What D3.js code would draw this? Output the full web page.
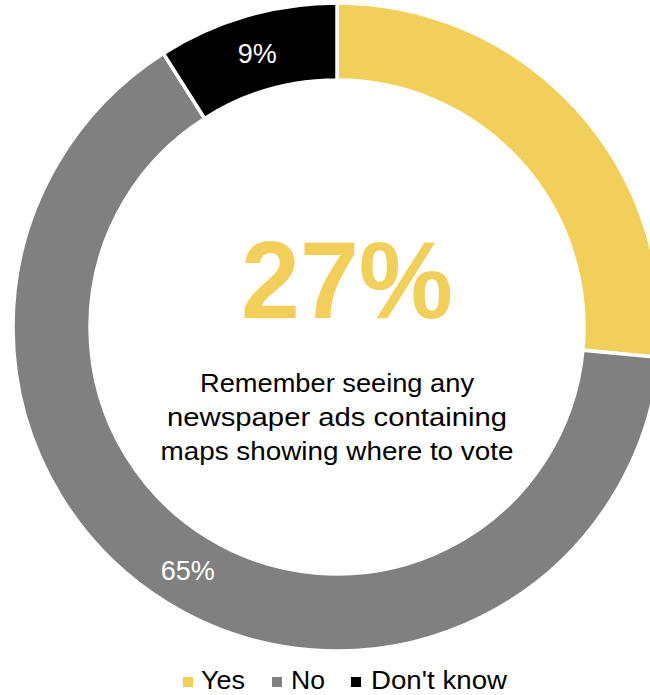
<!DOCTYPE html>
<html>
<head>
<meta charset="utf-8">
<script src="https://cdn.jsdelivr.net/npm/d3@7"></script>
<style>
  html, body { margin: 0; padding: 0; background: #fff; }
  svg { display: block; }
</style>
</head>
<body>
<svg id="chart" width="650" height="695"></svg>
<script>
const categories = ["Yes", "No", "Don't know"];
const values = [26.5, 64.5, 9];
const sliceLabels = ["27%", "65%", "9%"];
const colors = ["#F2CF5B", "#808080", "#000000"];
const centerValue = "27%";
const centerText = ["Remember seeing any", "newspaper ads containing", "maps showing where to vote"];

const svg = d3.select("#chart");
const cx = 337, cy = 327, outerR = 324, innerR = 247;
const FONT = "Liberation Sans, Arial, sans-serif";

const pie = d3.pie().sort(null).value(d => d.value);
const data = categories.map((c, i) => ({ name: c, value: values[i], label: sliceLabels[i], color: colors[i] }));
const arcs = pie(data);
const arc = d3.arc().innerRadius(innerR).outerRadius(outerR);
const labelArc = d3.arc().innerRadius((innerR + outerR) / 2).outerRadius((innerR + outerR) / 2);

const g = svg.append("g").attr("transform", `translate(${cx},${cy})`);
g.selectAll("path.slice")
  .data(arcs)
  .join("path")
  .attr("class", "slice")
  .attr("d", arc)
  .attr("fill", d => d.data.color)
  .attr("stroke", "#fff")
  .attr("stroke-width", 3.5)
  .attr("stroke-linejoin", "miter");

g.selectAll("text.slabel")
  .data(arcs.filter(d => d.data.name !== "Yes"))
  .join("text")
  .attr("class", "slabel")
  .attr("transform", d => `translate(${labelArc.centroid(d)})`)
  .attr("text-anchor", "middle")
  .attr("dy", "0.36em")
  .attr("fill", "#fff")
  .attr("font-family", FONT)
  .attr("font-size", 27)
  .text(d => d.data.label);

svg.append("text")
  .attr("x", cx + 10)
  .attr("y", 318)
  .attr("text-anchor", "middle")
  .attr("fill", "#F2CF5B")
  .attr("font-family", FONT)
  .attr("font-weight", "bold")
  .attr("font-size", 109)
  .attr("textLength", 212)
  .attr("lengthAdjust", "spacingAndGlyphs")
  .text(centerValue);

const subWidths = [274, 340, 353];
svg.selectAll("text.sub")
  .data(centerText)
  .join("text")
  .attr("class", "sub")
  .attr("x", cx)
  .attr("y", (d, i) => 392 + i * 34)
  .attr("text-anchor", "middle")
  .attr("fill", "#000")
  .attr("font-family", FONT)
  .attr("font-size", 26)
  .attr("textLength", (d, i) => subWidths[i])
  .attr("lengthAdjust", "spacingAndGlyphs")
  .text(d => d);

// Legend
const legendItems = [
  { x: 183, tx: 201, w: 44 },
  { x: 272, tx: 291, w: 34 },
  { x: 351, tx: 371, w: 136 }
];
const lg = svg.append("g");
data.forEach((d, i) => {
  lg.append("rect")
    .attr("x", legendItems[i].x)
    .attr("y", 677)
    .attr("width", 10)
    .attr("height", 10)
    .attr("fill", d.color);
  lg.append("text")
    .attr("x", legendItems[i].tx)
    .attr("y", 689)
    .attr("fill", "#000")
    .attr("font-family", FONT)
    .attr("font-size", 26)
    .attr("textLength", legendItems[i].w)
    .attr("lengthAdjust", "spacingAndGlyphs")
    .text(d.name);
});
</script>
</body>
</html>
